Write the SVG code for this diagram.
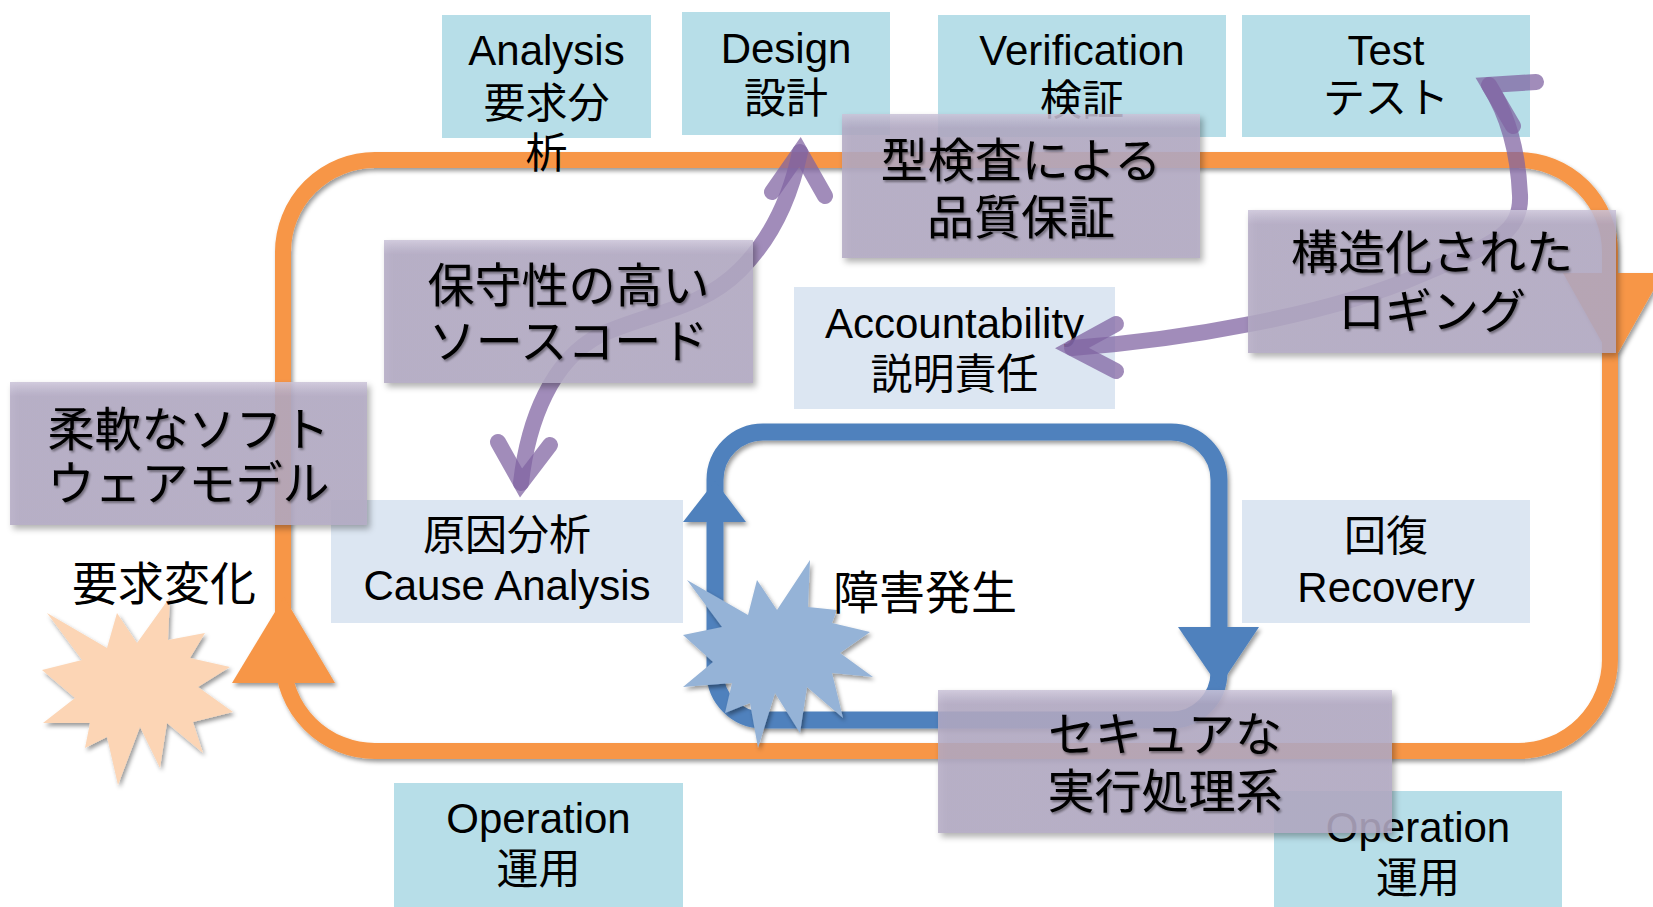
<svg xmlns="http://www.w3.org/2000/svg" width="1653" height="907" viewBox="0 0 1653 907">
<defs>
<style>
.lb{fill:#b7dee8}
.pb{fill:#dce6f2}
.pp{fill:url(#pg);fill-opacity:0.86}
.t{font-family:"Liberation Sans",Arial,"Noto Sans CJK JP",sans-serif;font-size:42px;fill:#000;text-anchor:middle}
.j{font-family:"Noto Sans CJK JP","Noto Sans CJK SC",sans-serif;font-size:42px;fill:#000;text-anchor:middle}
.big{font-family:"Noto Sans CJK JP","Noto Sans CJK SC",sans-serif;font-size:47px;fill:#000;text-anchor:middle}
.free{font-family:"Noto Sans CJK JP","Noto Sans CJK SC",sans-serif;font-size:46px;fill:#000;text-anchor:middle}
.pa{fill:none;stroke:#8064a2;stroke-opacity:0.74;stroke-width:16;stroke-linecap:round;stroke-linejoin:miter}
.or{fill:none;stroke:#f79646;stroke-width:16}
.bl{fill:none;stroke:#4f81bd;stroke-width:17}
</style>
<linearGradient id="pg" x1="0" y1="0" x2="0" y2="1">
<stop offset="0" stop-color="#cac3d8"/>
<stop offset="0.1" stop-color="#b3aac4"/>
<stop offset="1" stop-color="#b3aac4"/>
</linearGradient>
<filter id="sh" x="-10%" y="-10%" width="125%" height="125%"><feDropShadow dx="2" dy="3" stdDeviation="2" flood-color="#000" flood-opacity="0.4"/></filter>
<filter id="bs" x="-10%" y="-10%" width="125%" height="130%"><feDropShadow dx="3" dy="4" stdDeviation="3" flood-color="#000" flood-opacity="0.35"/></filter>
<filter id="ts" x="-5%" y="-10%" width="115%" height="130%"><feDropShadow dx="1.5" dy="2" stdDeviation="1.3" flood-color="#000" flood-opacity="0.4"/></filter>
</defs>

<g id="node-test"><rect class="lb" x="1242" y="15" width="288" height="122"/><text class="t" x="1386" y="65">Test</text><text class="j" x="1386" y="113">テスト</text></g>
<g id="node-verification"><rect class="lb" x="938" y="15" width="288" height="122"/><text class="t" x="1082" y="65">Verification</text><text class="j" x="1082" y="115">検証</text></g>
<g id="node-design"><rect class="lb" x="682" y="12" width="208" height="123"/><text class="t" x="786" y="63">Design</text><text class="j" x="786" y="113">設計</text></g>
<g id="node-accountability"><rect class="pb" x="794" y="287" width="321" height="122"/><text class="t" x="954.5" y="338">Accountability</text><text class="j" x="954.5" y="389">説明責任</text></g>
<g id="node-cause"><rect class="pb" x="331" y="500" width="352" height="123"/><text class="j" x="507" y="550">原因分析</text><text class="t" x="507" y="600">Cause Analysis</text></g>
<g id="node-recovery"><rect class="pb" x="1242" y="500" width="288" height="123"/><text class="j" x="1386" y="551">回復</text><text class="t" x="1386" y="602">Recovery</text></g>
<g id="node-operation-left"><rect class="lb" x="394" y="783" width="289" height="124"/><text class="t" x="538.5" y="833">Operation</text><text class="j" x="538.5" y="884">運用</text></g>
<g id="node-operation-right"><rect class="lb" x="1274" y="791" width="288" height="116"/><text class="t" x="1418" y="842">Operation</text><text class="j" x="1418" y="893">運用</text></g>

<g id="connectors">
<g filter="url(#sh)">
<rect class="or" x="283" y="160" width="1327" height="591" rx="92" ry="92"/>
<polygon fill="#f79646" points="232,683 335,683 284,597"/>
<polygon fill="#f79646" points="1563,273 1663,273 1613,362"/>
<rect class="bl" x="715" y="432" width="504" height="288" rx="48" ry="48"/>
<polygon fill="#4f81bd" points="683,522 746,522 715,481"/>
<polygon fill="#4f81bd" points="1178,627 1259,627 1219,687"/>
</g>
<path class="pa" d="M521,483 C528,420 552,360 600,335 C650,312 700,310 740,270 C775,235 792,190 800,152"/>
<path class="pa" d="M772,192 L800,152 L825,196"/>
<path class="pa" d="M498,442 L521,483 L550,445"/>
<path class="pa" d="M1072,348 C1180,340 1330,315 1420,275 C1490,245 1522,235 1520,195 C1518,150 1508,115 1489,85"/>
<path class="pa" d="M1116,324 L1072,348 L1116,371"/>
<path class="pa" d="M1536,82 L1489,85 L1513,126"/>
</g>

<g id="node-analysis"><rect class="lb" x="442" y="15" width="209" height="123"/><text class="t" x="546.5" y="65">Analysis</text><text class="j" x="546.5" y="118">要求分</text><text class="j" x="546.5" y="168">析</text></g>

<g id="node-requirement-change">
<polygon fill="#fcd5b5" filter="url(#sh)" points="47,613 107,648 117,613 137,643 170,597 168,640 205,633 190,658 230,667 198,687 233,712 193,722 203,753 167,723 160,768 140,727 118,785 107,737 85,748 90,723 43,723 75,698 42,670 82,660"/>
<text class="free" x="164" y="600">要求変化</text>
</g>
<g id="node-failure">
<polygon fill="#95b3d7" filter="url(#sh)" points="687,580 748,615 757,580 777,610 810,560 808,607 837,610 832,623 870,632 840,653 873,677 832,673 843,718 807,687 800,733 775,693 758,748 750,703 725,713 732,683 683,687 713,662 683,635 722,627"/>
<text class="free" x="925" y="609">障害発生</text>
</g>

<g id="node-type-check"><rect class="pp" filter="url(#bs)" x="842" y="114" width="358" height="144"/><g filter="url(#ts)"><text class="big" x="1021" y="177">型検査による</text><text class="big" x="1021" y="234">品質保証</text></g></g>
<g id="node-logging"><rect class="pp" filter="url(#bs)" x="1248" y="210" width="368" height="143"/><g filter="url(#ts)"><text class="big" x="1432" y="269">構造化された</text><text class="big" x="1432" y="328">ロギング</text></g></g>
<g id="node-maintainable"><rect class="pp" filter="url(#bs)" x="384" y="240" width="369" height="143"/><g filter="url(#ts)"><text class="big" x="568.5" y="302">保守性の高い</text><text class="big" x="568.5" y="358">ソースコード</text></g></g>
<g id="node-flexible"><rect class="pp" filter="url(#bs)" x="10" y="382" width="357" height="143"/><g filter="url(#ts)"><text class="big" x="188.5" y="446">柔軟なソフト</text><text class="big" x="188.5" y="500">ウェアモデル</text></g></g>
<g id="node-secure"><rect class="pp" filter="url(#bs)" x="938" y="690" width="454" height="143"/><g filter="url(#ts)"><text class="big" x="1165" y="751">セキュアな</text><text class="big" x="1165" y="808">実行処理系</text></g></g>
</svg>
